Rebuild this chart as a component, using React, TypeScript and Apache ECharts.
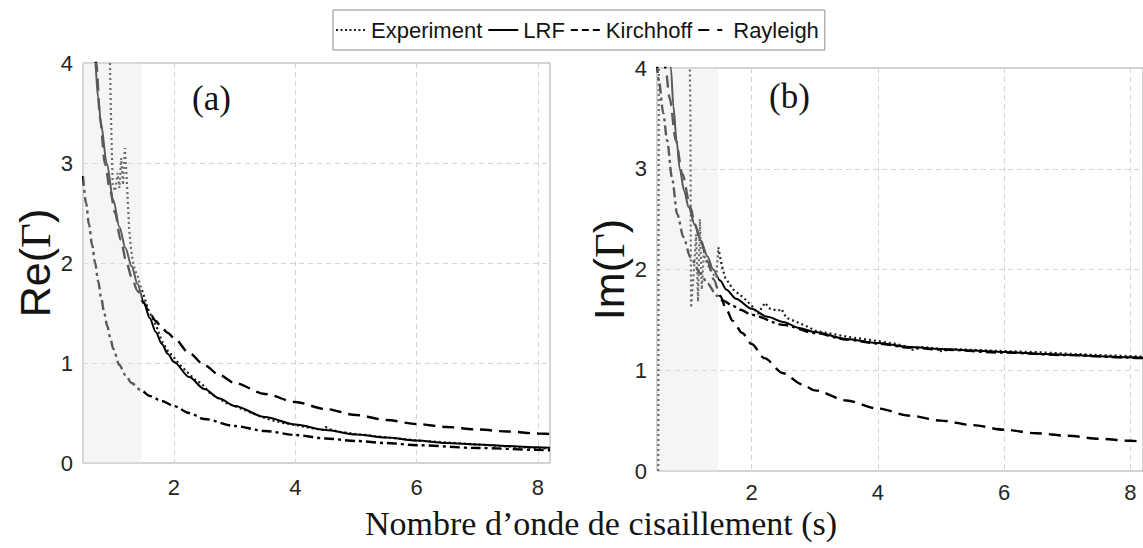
import React, { useEffect, useRef } from "react";
import * as echarts from "echarts";

// ---------- axis limits ----------
const X_MIN = 0.5;
const X_MAX = 8.2;
const Y_MIN = 0;
const Y_MAX = 4;
const shadeX = [0.5, 1.47];

// ---------- legend / texts ----------
const legendNames = ["Experiment", "LRF", "Kirchhoff", "Rayleigh"];
const xTitle = "Nombre d\u2019onde de cisaillement (s)";
const panelLabels = ["(a)", "(b)"];

// ---------- panel (a): Re(Γ) ----------
const reLRF_x = [0.62, 0.66, 0.7, 0.75, 0.8, 0.89, 1.0, 1.1, 1.2, 1.3, 1.4, 1.5, 1.6, 1.7, 1.8, 1.9, 2.0, 2.25, 2.5, 2.75, 3.0, 3.5, 4.0, 4.5, 5.0, 5.5, 6.0, 6.5, 7.0, 7.5, 8.0, 8.2];
const reLRF_y = [4.9, 4.45, 4.0, 3.65, 3.38, 3.0, 2.63, 2.36, 2.15, 1.97, 1.79, 1.61, 1.45, 1.31, 1.19, 1.09, 1.01, 0.86, 0.74, 0.645, 0.57, 0.46, 0.385, 0.33, 0.285, 0.255, 0.225, 0.2, 0.185, 0.17, 0.157, 0.152];

const reKir_x = [0.66, 0.72, 0.78, 0.86, 0.95, 1.03, 1.12, 1.22, 1.3, 1.4, 1.5, 1.6, 1.7, 1.8, 1.9, 2.0, 2.25, 2.5, 2.75, 3.0, 3.5, 4.0, 4.5, 5.0, 5.5, 6.0, 6.5, 7.0, 7.5, 8.0, 8.2];
const reKir_y = [4.6, 4.0, 3.45, 3.0, 2.72, 2.5, 2.23, 2.0, 1.86, 1.72, 1.6, 1.5, 1.42, 1.35, 1.3, 1.25, 1.1, 0.98, 0.88, 0.8, 0.69, 0.61, 0.54, 0.48, 0.43, 0.39, 0.36, 0.335, 0.315, 0.295, 0.29];

const reRay_x = [0.5, 0.55, 0.6, 0.65, 0.7, 0.75, 0.8, 0.85, 0.9, 0.95, 1.0, 1.1, 1.2, 1.3, 1.45, 1.6, 1.8, 2.0, 2.25, 2.5, 3.0, 3.5, 4.0, 4.5, 5.0, 5.5, 6.0, 7.0, 8.0, 8.2];
const reRay_y = [2.87, 2.6, 2.38, 2.18, 2.0, 1.82, 1.65, 1.5, 1.37, 1.25, 1.14, 0.98, 0.88, 0.8, 0.73, 0.67, 0.62, 0.57, 0.5, 0.44, 0.37, 0.32, 0.28, 0.245, 0.22, 0.2, 0.178, 0.15, 0.132, 0.128];

const reExp_x = [0.93, 0.945, 0.96, 0.98, 0.99, 1.03, 1.07, 1.1, 1.13, 1.16, 1.19, 1.22, 1.24, 1.26, 1.29, 1.32, 1.36, 1.4, 1.44, 1.49, 1.55, 1.6, 1.71, 1.8, 1.9, 1.98, 2.1, 2.2, 2.37, 2.45, 2.59, 2.7, 2.86, 3.0, 3.2, 3.36, 3.6, 3.8, 4.0, 4.2, 4.45, 4.5, 4.55, 4.7, 5.0, 5.3, 5.6, 6.0, 6.5, 7.0, 7.5, 8.0, 8.2];
const reExp_y = [4.4, 4.0, 3.5, 3.0, 2.78, 2.72, 2.9, 2.75, 3.05, 2.78, 3.15, 2.85, 2.6, 2.35, 2.15, 2.02, 1.92, 1.88, 1.78, 1.7, 1.58, 1.5, 1.37, 1.22, 1.12, 1.07, 0.98, 0.92, 0.82, 0.8, 0.7, 0.66, 0.6, 0.57, 0.52, 0.48, 0.43, 0.4, 0.38, 0.355, 0.33, 0.36, 0.34, 0.315, 0.29, 0.27, 0.25, 0.225, 0.205, 0.185, 0.165, 0.15, 0.145];

// ---------- panel (b): Im(Γ) ----------
const imLRF_x = [0.65, 0.72, 0.76, 0.81, 0.86, 0.93, 1.0, 1.1, 1.19, 1.3, 1.39, 1.5, 1.6, 1.75, 2.0, 2.25, 2.5, 2.75, 3.0, 3.5, 4.0, 4.5, 5.0, 5.5, 6.0, 6.5, 7.0, 7.5, 8.0, 8.2];
const imLRF_y = [4.6, 4.0, 3.62, 3.28, 3.0, 2.78, 2.62, 2.44, 2.29, 2.13, 2.0, 1.89, 1.8, 1.71, 1.61, 1.53, 1.48, 1.42, 1.38, 1.31, 1.27, 1.23, 1.21, 1.195, 1.18, 1.165, 1.155, 1.14, 1.13, 1.125];

const imKir_x = [0.6, 0.64, 0.7, 0.8, 0.9, 1.03, 1.1, 1.19, 1.3, 1.4, 1.5, 1.6, 1.7, 1.85, 2.0, 2.2, 2.5, 2.8, 3.0, 3.5, 4.0, 4.5, 5.0, 5.5, 6.0, 6.5, 7.0, 7.5, 8.0, 8.2];
const imKir_y = [4.3, 3.97, 3.7, 3.28, 2.95, 2.62, 2.45, 2.29, 2.08, 1.9, 1.74, 1.6, 1.49, 1.37, 1.26, 1.12, 0.97, 0.86, 0.8, 0.7, 0.62, 0.55, 0.5, 0.455, 0.41, 0.375, 0.35, 0.32, 0.3, 0.29];

const imRay_x = [0.5, 0.53, 0.6, 0.66, 0.74, 0.82, 0.92, 1.03, 1.19, 1.3, 1.45, 1.55, 1.7, 1.82, 2.0, 2.5, 3.0, 3.5, 4.0, 4.5, 5.0, 6.0, 7.0, 8.0, 8.2];
const imRay_y = [4.05, 3.87, 3.55, 3.28, 2.9, 2.55, 2.32, 2.12, 1.96, 1.86, 1.74, 1.69, 1.64, 1.6, 1.55, 1.45, 1.37, 1.305, 1.265, 1.225, 1.205, 1.175, 1.15, 1.125, 1.12];

const imExp_x = [0.52, 0.53, 0.54, 1.0, 1.03, 1.035, 1.04, 1.08, 1.12, 1.15, 1.18, 1.21, 1.24, 1.3, 1.38, 1.44, 1.47, 1.53, 1.58, 1.71, 1.87, 2.0, 2.1, 2.21, 2.29, 2.42, 2.47, 2.55, 2.71, 2.86, 3.02, 3.28, 3.54, 4.0, 4.3, 4.49, 4.52, 4.7, 4.95, 4.98, 5.2, 5.6, 6.0, 6.5, 7.0, 7.5, 8.0, 8.2];
const imExp_y = [0, 4.6, 5.0, 5.0, 3.5, 2.3, 1.62, 1.95, 2.35, 1.68, 2.5, 1.8, 2.15, 2.05, 1.96, 1.92, 2.22, 2.03, 1.92, 1.8, 1.72, 1.64, 1.56, 1.67, 1.61, 1.59, 1.61, 1.52, 1.48, 1.44, 1.39, 1.36, 1.33, 1.29, 1.26, 1.23, 1.2, 1.23, 1.215, 1.19, 1.21, 1.2, 1.19, 1.18, 1.165, 1.15, 1.14, 1.135];

const zip = (xs: number[], ys: number[]) => xs.map((x, i) => [x, ys[i]]);

const SANS = "Liberation Sans";
const SERIF = "Liberation Serif";
const INK = "#141414";

const styles: Record<string, any> = {
  Experiment: { type: [2, 3], width: 2.2, color: "#1e1e1e" },
  LRF: { type: "solid", width: 2, color: "#000" },
  Kirchhoff: { type: [12, 7], width: 2.4, color: "#000" },
  Rayleigh: { type: [10, 4, 3, 4], width: 2.4, color: "#000" },
};

// dash patterns as they appear in the legend box
const legendDash: Record<string, any> = {
  Experiment: [2, 2.5],
  LRF: "solid",
  Kirchhoff: [7, 4],
  Rayleigh: [11, 8, 5, 8],
};

function lineSeries(name: string, xs: number[], ys: number[], gi: number, smooth: boolean) {
  const st = styles[name];
  return {
    name,
    type: "line",
    xAxisIndex: gi,
    yAxisIndex: gi,
    data: zip(xs, ys),
    symbol: "none",
    showSymbol: false,
    smooth: smooth ? 0.3 : false,
    smoothMonotone: smooth ? "x" : undefined,
    clip: true,
    color: st.color,
    lineStyle: { ...st },
    z: 3,
    silent: true,
  };
}

function shadeSeries(gi: number) {
  return {
    name: "shade" + gi,
    type: "line",
    xAxisIndex: gi,
    yAxisIndex: gi,
    data: [
      [shadeX[0], Y_MAX],
      [shadeX[1], Y_MAX],
    ],
    symbol: "none",
    lineStyle: { width: 0 },
    areaStyle: { color: "rgba(230,228,232,0.56)", origin: "start" },
    z: 10,
    silent: true,
  };
}

function makeXAxis(gi: number, margin: number) {
  return {
    type: "value",
    gridIndex: gi,
    min: X_MIN,
    max: X_MAX,
    axisLine: { show: false },
    axisTick: { show: false },
    axisLabel: {
      showMinLabel: false,
      showMaxLabel: false,
      fontFamily: SANS,
      fontSize: 22,
      lineHeight: 18,
      color: "#262626",
      margin,
      formatter: (v: number) => (Number.isInteger(v) ? String(v) : ""),
    },
    splitLine: { show: true, lineStyle: { type: [5, 4], color: "#d4d4d4", width: 1 } },
  };
}

function makeYAxis(gi: number, label: string, gap: number) {
  return {
    type: "value",
    gridIndex: gi,
    min: Y_MIN,
    max: Y_MAX,
    interval: 1,
    axisLine: { show: false },
    axisTick: { show: false },
    axisLabel: { fontFamily: SANS, fontSize: 22, color: "#262626", margin: 10 },
    splitLine: { show: true, lineStyle: { type: [5, 4], color: "#d4d4d4", width: 1 } },
    name: "{a|" + label + "(}{b|\u0393}{a|)}",
    nameLocation: "middle",
    nameRotate: 90,
    nameGap: gap,
    nameTextStyle: {
      rich: {
        a: { fontFamily: SANS, fontSize: 43, color: INK },
        b: { fontFamily: SERIF, fontSize: 43, color: INK },
      },
    },
  };
}

export default function App() {
  const ref = useRef<HTMLDivElement>(null);
  useEffect(() => {
    if (!ref.current) return;
    const chart = echarts.init(ref.current, undefined, { renderer: "svg" });
    const option: any = {
      animation: false,
      backgroundColor: "#ffffff",
      title: [
        { text: panelLabels[0], left: 192, top: 81, padding: 0, textStyle: { fontFamily: SERIF, fontSize: 35, fontWeight: "normal", color: INK } },
        { text: panelLabels[1], left: 769, top: 79, padding: 0, textStyle: { fontFamily: SERIF, fontSize: 35, fontWeight: "normal", color: INK } },
        { text: xTitle, left: 365, top: 512, padding: 0, textStyle: { fontFamily: SERIF, fontSize: 34, lineHeight: 22, fontWeight: "normal", color: INK } },
      ],
      legend: {
        data: legendNames.map((n) => ({ name: n, lineStyle: { type: legendDash[n], width: 2 } })),
        left: 333,
        top: 10,
        orient: "horizontal",
        itemWidth: 30,
        itemHeight: 14,
        itemGap: 5,
        padding: [9, 6, 9, 2],
        borderColor: "#8c8c8c",
        borderWidth: 1,
        backgroundColor: "#ffffff",
        selectedMode: false,
        itemStyle: { opacity: 0, color: "transparent", borderWidth: 0 },
        textStyle: { fontFamily: SANS, fontSize: 22, color: INK },
      },
      grid: [
        { left: 83, top: 63, width: 467, height: 400, show: true, borderColor: "#a8a8a8", borderWidth: 1, backgroundColor: "transparent" },
        { left: 657, top: 68, width: 488, height: 403, show: true, borderColor: "#a8a8a8", borderWidth: 1, backgroundColor: "transparent" },
      ],
      xAxis: [makeXAxis(0, 15), makeXAxis(1, 12)],
      yAxis: [makeYAxis(0, "Re", 22), makeYAxis(1, "Im", 16)],
      series: [
        lineSeries("Experiment", reExp_x, reExp_y, 0, false),
        lineSeries("LRF", reLRF_x, reLRF_y, 0, true),
        lineSeries("Kirchhoff", reKir_x, reKir_y, 0, true),
        lineSeries("Rayleigh", reRay_x, reRay_y, 0, true),
        shadeSeries(0),
        lineSeries("Experiment", imExp_x, imExp_y, 1, false),
        lineSeries("LRF", imLRF_x, imLRF_y, 1, true),
        lineSeries("Kirchhoff", imKir_x, imKir_y, 1, true),
        lineSeries("Rayleigh", imRay_x, imRay_y, 1, true),
        shadeSeries(1),
      ],
    };
    chart.setOption(option);
    return () => chart.dispose();
  }, []);
  return (
    <div
      ref={ref}
      style={{ position: "fixed", left: 0, top: 0, width: 1143, height: 548, background: "#fff" }}
    />
  );
}
